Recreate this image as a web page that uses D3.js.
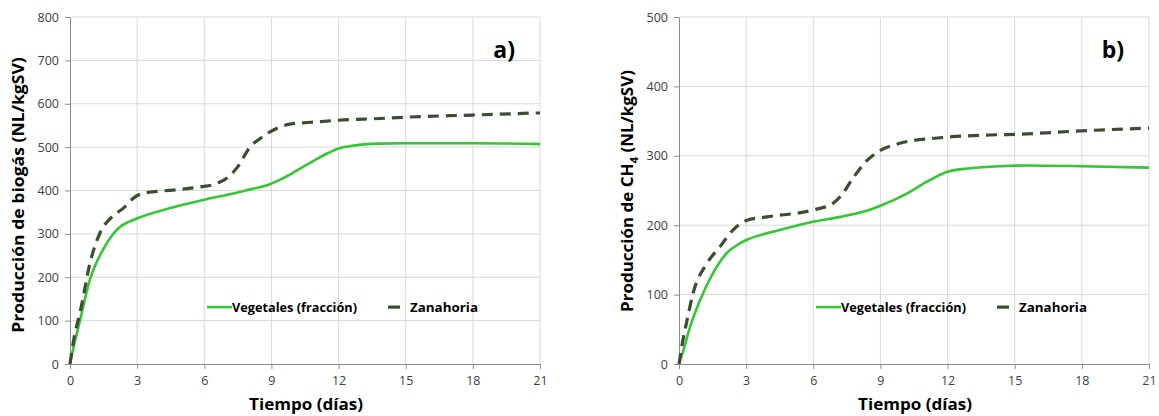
<!DOCTYPE html>
<html lang="es">
<head>
<meta charset="UTF-8">
<title>Producción de biogás y metano</title>
<style>
  body { margin: 0; background: #fff; }
  text { font-family: "Open Sans", "DejaVu Sans", sans-serif; }
</style>
</head>
<body>
<svg id="svg" width="1159" height="416"></svg>
<script src="https://d3js.org/d3.v7.min.js"></script>
<script>
// days (x) and cumulative production
const xTicks = [0, 3, 6, 9, 12, 15, 18, 21]
const seriesNames = ['Vegetales (fracción)', 'Zanahoria']

const biogasVegDays = [0, 0.1, 0.45, 0.9, 1.47, 1.9, 2.23, 2.6, 3, 4.3, 5.2, 6.1, 7.3, 8, 8.9, 9.5, 10.1, 10.7, 11.4, 12, 12.6, 13.8, 15, 18, 21]
const biogasVegVals = [0, 25, 101, 196, 263, 298, 316, 327, 336, 357, 369, 380, 393, 402, 414, 428, 445, 463, 483, 497, 503, 508, 509, 509, 507]
const biogasZanDays = [0, 0.13, 0.5, 0.89, 1.34, 1.85, 2.4, 2.85, 3.3, 4.6, 5.8, 6.5, 7.0, 7.5, 8.04, 8.5, 8.94, 9.83, 11, 12, 13.85, 15, 18, 21]
const biogasZanVals = [0, 45, 131, 232, 302, 338, 360, 383, 394, 401, 408, 415, 428, 455, 500, 520, 535, 553, 558, 562, 566, 569, 574, 579]

const ch4VegDays = [0, 0.2, 0.49, 0.94, 1.52, 2.14, 2.73, 3.04, 4.5, 6, 7.2, 8.5, 9, 10.2, 11.1, 12, 13, 14.3, 15.5, 18, 21]
const ch4VegVals = [0, 20, 53, 92, 131, 160, 174, 179, 193, 205, 212, 222, 228, 246, 263, 277, 282, 285, 286, 285, 283]
const ch4ZanDays = [0, 0.15, 0.36, 0.63, 1.25, 1.83, 2.41, 3.04, 3.93, 6, 6.9, 7.2, 7.8, 8.3, 8.85, 9.87, 11.66, 13.9, 15.1, 18, 21]
const ch4ZanVals = [0, 30, 63, 102, 145, 169, 193, 207, 212, 222, 232, 241, 269, 290, 305, 318, 326, 330, 331, 336, 340]

const biogasYTicks = [0, 100, 200, 300, 400, 500, 600, 700, 800]
const ch4YTicks = [0, 100, 200, 300, 400, 500]

const svg = d3.select('#svg')

// stretch a text along its own direction so it covers `len` px
function fitLength(sel, len, transform) {
  const w = sel.node().getBBox().width
  sel.attr('transform', `${transform} scale(${len / w},1)`)
}

function panel(opt) {
  const x = d3.scaleLinear().domain([0, 21]).range([opt.left, opt.right])
  const y = d3.scaleLinear().domain([0, opt.yMax]).range([364, 17])
  const g = svg.append('g')

  // grid
  g.selectAll('.hg').data(opt.yTicks.slice(1)).enter().append('line')
    .attr('x1', opt.left).attr('x2', opt.right)
    .attr('y1', d => y(d)).attr('y2', d => y(d))
    .attr('stroke', '#d9d9d9').attr('stroke-width', 1)
  g.selectAll('.vg').data(xTicks.slice(1)).enter().append('line')
    .attr('x1', d => x(d)).attr('x2', d => x(d))
    .attr('y1', 17).attr('y2', 364)
    .attr('stroke', '#d9d9d9').attr('stroke-width', 1)

  // axes
  const xAxis = g.append('g').attr('transform', `translate(0,${y(0)})`)
    .call(d3.axisBottom(x).tickValues(xTicks).tickSize(5).tickSizeOuter(0).tickPadding(7))
  const yAxis = g.append('g').attr('transform', `translate(${opt.left},0)`)
    .call(d3.axisLeft(y).tickValues(opt.yTicks).tickSize(5).tickSizeOuter(0).tickPadding(6))
  ;[xAxis, yAxis].forEach(a => {
    a.select('.domain').attr('stroke', '#8c8c8c')
    a.selectAll('.tick line').attr('stroke', '#8c8c8c')
    a.selectAll('.tick text').attr('fill', '#404040').style('font-size', '12.5px')
      .style('font-family', '"Open Sans", sans-serif')
  })

  const line = d3.line()
    .x(d => x(d[0])).y(d => y(d[1]))
    .curve(d3.curveMonotoneX)

  g.append('path')
    .attr('d', line(d3.zip(opt.vegDays, opt.vegVals)))
    .attr('fill', 'none').attr('stroke', '#33c733').attr('stroke-width', 2.6)
  g.append('path')
    .attr('d', line(d3.zip(opt.zanDays, opt.zanVals)))
    .attr('fill', 'none').attr('stroke', '#3b4d33').attr('stroke-width', 3.2)
    .attr('stroke-dasharray', '11,7')

  // panel letter
  g.append('text').text(opt.letter)
    .attr('x', opt.right - 25).attr('y', 58)
    .attr('text-anchor', 'end')
    .style('font-size', '23px').style('font-weight', 'bold').attr('fill', '#000')

  // legend
  const ly = y(opt.yMax * 0.164)
  g.append('line').attr('x1', opt.left + 137).attr('x2', opt.left + 162)
    .attr('y1', ly).attr('y2', ly)
    .attr('stroke', '#33c733').attr('stroke-width', 2.6)
  const t1 = g.append('text').text(seriesNames[0])
    .attr('y', ly + 4.5)
    .style('font-size', '12.5px').style('font-weight', 'bold').attr('fill', '#000')
  fitLength(t1, 125, `translate(${opt.left + 162},0)`)
  g.append('line').attr('x1', opt.left + 318).attr('x2', opt.left + 330)
    .attr('y1', ly).attr('y2', ly)
    .attr('stroke', '#3b4d33').attr('stroke-width', 3.2)
  const t2 = g.append('text').text(seriesNames[1])
    .attr('y', ly + 4.5)
    .style('font-size', '12.5px').style('font-weight', 'bold').attr('fill', '#000')
  fitLength(t2, 68, `translate(${opt.left + 340},0)`)

  // axis titles
  const xt = g.append('text').text('Tiempo (días)')
    .attr('y', 410)
    .attr('text-anchor', 'middle')
    .style('font-size', '16px').style('font-weight', 'bold').attr('fill', '#000')
  fitLength(xt, 114, `translate(${(opt.left + opt.right) / 2 + 1},0)`)

  const yt = g.append('text')
    .attr('text-anchor', 'middle')
    .style('font-size', '16px').style('font-weight', 'bold').attr('fill', '#000')
  opt.yTitle(yt)
  fitLength(yt, opt.yTitleLen, `translate(${opt.left - 46},${opt.yTitleMid}) rotate(-90)`)
}

panel({
  left: 70, right: 540, yMax: 800, yTicks: biogasYTicks, letter: 'a)',
  vegDays: biogasVegDays, vegVals: biogasVegVals,
  zanDays: biogasZanDays, zanVals: biogasZanVals,
  yTitleLen: 276, yTitleMid: 195,
  yTitle: t => t.text('Producción de biogás (NL/kgSV)')
})

panel({
  left: 679, right: 1149, yMax: 500, yTicks: ch4YTicks, letter: 'b)',
  vegDays: ch4VegDays, vegVals: ch4VegVals,
  zanDays: ch4ZanDays, zanVals: ch4ZanVals,
  yTitleLen: 242, yTitleMid: 191,
  yTitle: t => {
    t.append('tspan').text('Producción de CH')
    t.append('tspan').text('4').attr('dy', 5).style('font-size', '11px')
    t.append('tspan').text(' (NL/kgSV)').attr('dy', -5)
  }
})
</script>
</body>
</html>
